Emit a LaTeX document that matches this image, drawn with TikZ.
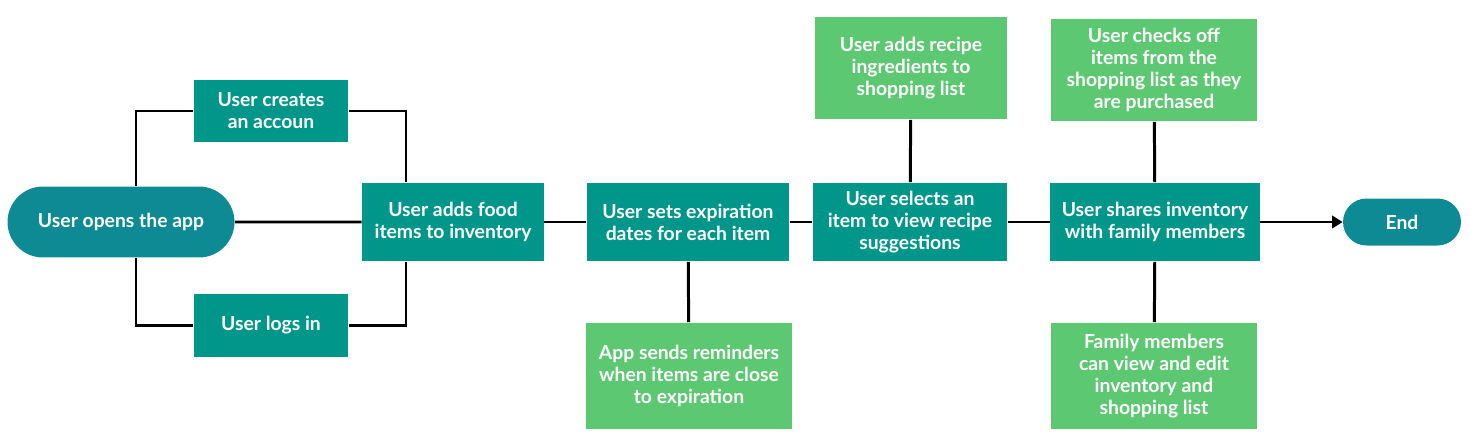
\documentclass[tikz,border=0pt]{standalone}
\usepackage{fontspec}
\setmainfont{Lato}
\usetikzlibrary{arrows.meta,shapes.misc,positioning}

\definecolor{pillteal}{HTML}{0E8A95}
\definecolor{boxteal}{HTML}{00968A}
\definecolor{boxgreen}{HTML}{5CC872}

\begin{document}
\begin{tikzpicture}[x=0.02cm, y=-0.02cm,
    every node/.style={font=\fontsize{11}{12.6}\selectfont\bfseries, text=white, align=center, inner sep=0pt},
    terminal/.style={rounded rectangle, fill=pillteal},
    stepbox/.style={rectangle, fill=boxteal},
    sidebox/.style={rectangle, fill=boxgreen},
    link/.style={line width=1.7pt, black}]
    \useasboundingbox (0,0) rectangle (1471,440);

    \node[terminal, minimum width=4.54cm, minimum height=1.42cm] at (121, 222)(open){User opens the app};
    \node[stepbox, minimum width=3.1cm, minimum height=1.26cm] at (271, 111)(create){User creates\\an accoun};
    \node[stepbox, minimum width=3.1cm, minimum height=1.26cm] at (271, 325)(login){User logs in};
    \node[stepbox, minimum width=3.64cm, minimum height=1.58cm] at (453, 222)(add){User adds food\\items to inventory};
    \node[stepbox, minimum width=4.06cm, minimum height=1.58cm] at (688, 222)(expire){User sets expiration\\dates for each item};
    \node[sidebox, minimum width=4.12cm, minimum height=2.14cm] at (689, 376)(remind){App sends reminders\\when items are close\\to expiration};
    \node[stepbox, minimum width=3.9cm, minimum height=1.58cm] at (910, 222)(select){User selects an\\item to view recipe\\suggestions};
    \node[sidebox, minimum width=3.84cm, minimum height=2.06cm] at (911, 68)(recipe){User adds recipe\\ingredients to\\shopping list};
    \node[stepbox, minimum width=4.2cm, minimum height=1.58cm] at (1155, 222)(share){User shares inventory\\with family members};
    \node[sidebox, minimum width=4.14cm, minimum height=2.06cm] at (1154, 70)(check){User checks off\\items from the\\shopping list as they\\are purchased};
    \node[sidebox, minimum width=4.14cm, minimum height=2.14cm] at (1154, 376)(family){Family members\\can view and edit\\inventory and\\shopping list};
    \node[terminal, minimum width=2.36cm, minimum height=0.94cm] at (1402, 222)(end){End};

    \draw[link] (open.north -| 136, 0) |- (create.west);
    \draw[link] (open.south -| 136, 0) |- (login.west);
    \draw[link] (create.east) -| (add.north -| 406, 0);
    \draw[link] (login.east) -| (add.south -| 406, 0);
    \draw[link] (open) -- (add);
    \draw[link] (add) -- (expire);
    \draw[link] (expire) -- (remind);
    \draw[link] (expire) -- (select);
    \draw[link] (select) -- (recipe);
    \draw[link] (select) -- (share);
    \draw[link] (share) -- (check);
    \draw[link] (share) -- (family);
    \draw[link, -{Triangle[length=6pt, width=7pt]}] (share) -- (end);
\end{tikzpicture}
\end{document}
